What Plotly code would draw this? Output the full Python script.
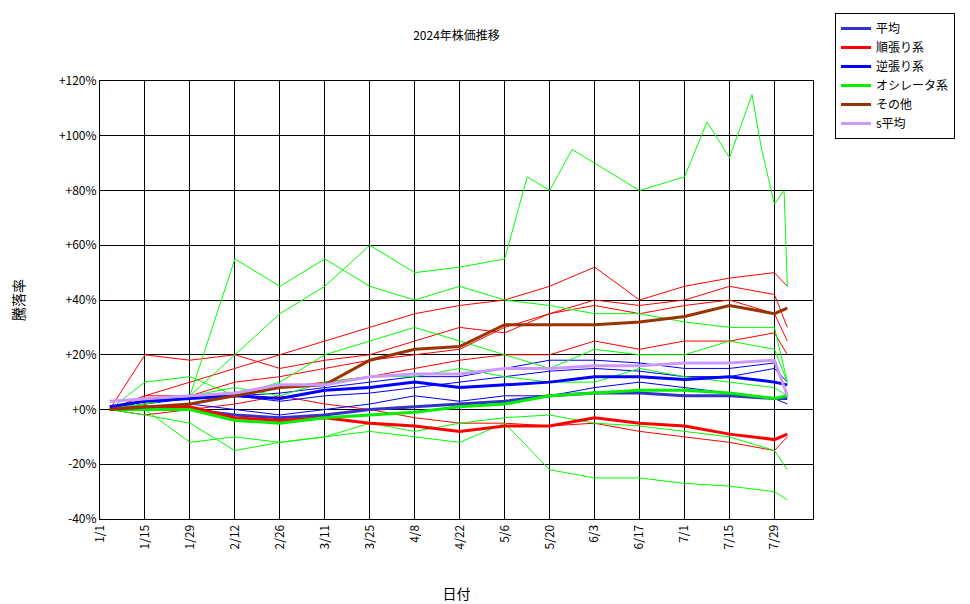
import plotly.graph_objects as go

# sample dates (roughly every two weeks, matching the tick dates)
dates = ["2024-01-04", "2024-01-15", "2024-01-29", "2024-02-12", "2024-02-26", "2024-03-11",
         "2024-03-25", "2024-04-08", "2024-04-22", "2024-05-06", "2024-05-20", "2024-06-03",
         "2024-06-17", "2024-07-01", "2024-07-15", "2024-07-29", "2024-08-02"]

# thick summary lines (%)
avg_all = [0, 0, 0, -2, -3, -2, 0, 1, 2, 3, 5, 6, 6, 5, 5, 4, 4]
trend = [0, 1, 1, -3, -4, -3, -5, -6, -8, -6, -6, -3, -5, -6, -9, -11, -9]
contra = [1, 3, 4, 5, 4, 7, 8, 10, 8, 9, 10, 12, 12, 11, 12, 10, 9]
osc = [0, 0, 0, -4, -5, -3, -2, -1, 1, 2, 5, 6, 7, 7, 6, 4, 5]
other = [0, 1, 2, 5, 8, 9, 18, 22, 23, 31, 31, 31, 32, 34, 38, 35, 37]
s_avg = [3, 4, 5, 6, 9, 9, 12, 13, 13, 15, 15, 16, 16, 17, 17, 18, 5]

# thin individual stock lines (%)
red_lines = [
    [0, 5, 10, 15, 20, 25, 30, 35, 38, 40, 45, 52, 40, 45, 48, 50, 45],
    [0, 20, 18, 20, 15, 18, 20, 25, 30, 28, 35, 40, 38, 40, 45, 42, 30],
    [0, 5, 5, 10, 12, 15, 18, 20, 22, 30, 35, 38, 35, 38, 40, 35, 25],
    [0, -2, 0, 2, 5, 2, 0, -3, -5, -5, -6, -5, -8, -10, -12, -15, -10],
    [0, 2, 5, 5, 8, 10, 12, 15, 18, 20, 20, 25, 22, 25, 25, 28, 20],
]
blue_lines = [
    [0, 2, 4, 5, 6, 8, 10, 12, 12, 15, 18, 18, 17, 15, 15, 17, 5],
    [0, 3, 5, 5, 3, 5, 6, 8, 10, 12, 14, 15, 14, 12, 12, 15, 10],
    [0, 0, 2, 0, -2, 0, 2, 5, 3, 5, 5, 8, 10, 8, 6, 4, 2],
]
green_lines = [
    [0, 2, 5, 55, 45, 55, 45, 40, 45, 40, 38, 35, 35, 32, 30, 30, 10],
    [0, 0, -12, -10, -12, -10, -8, -10, -12, -5, -22, -25, -25, -27, -28, -30, -33],
    [0, -2, -5, -15, -12, -10, -5, -8, -5, -3, -2, -5, -6, -8, -10, -15, -22],
    [0, 10, 12, 5, 10, 20, 25, 30, 25, 20, 15, 22, 20, 20, 25, 22, 10],
    [0, 3, 5, 8, 5, 10, 12, 12, 15, 12, 10, 10, 15, 12, 10, 8, 5],
]
# the top green line has more detail
g_top_dates = ["2024-01-04", "2024-01-15", "2024-01-29", "2024-02-12", "2024-02-26", "2024-03-11",
               "2024-03-25", "2024-04-08", "2024-04-22", "2024-05-06", "2024-05-13", "2024-05-20",
               "2024-05-27", "2024-06-03", "2024-06-17", "2024-07-01", "2024-07-08", "2024-07-15",
               "2024-07-22", "2024-07-25", "2024-07-29", "2024-08-01", "2024-08-02"]
g_top = [0, 2, 5, 20, 35, 45, 60, 50, 52, 55, 85, 80, 95, 90, 80, 85, 105, 92, 115, 95, 75, 80, 45]

tick_dates = ["2024-01-01", "2024-01-15", "2024-01-29", "2024-02-12", "2024-02-26", "2024-03-11",
              "2024-03-25", "2024-04-08", "2024-04-22", "2024-05-06", "2024-05-20", "2024-06-03",
              "2024-06-17", "2024-07-01", "2024-07-15", "2024-07-29"]
tick_text = ["1/1", "1/15", "1/29", "2/12", "2/26", "3/11", "3/25", "4/8", "4/22", "5/6",
             "5/20", "6/3", "6/17", "7/1", "7/15", "7/29"]
y_ticks = [-40, -20, 0, 20, 40, 60, 80, 100, 120]
y_text = ["-40%", "-20%", "+0%", "+20%", "+40%", "+60%", "+80%", "+100%", "+120%"]

fig = go.Figure()

def thin(x, y, color):
    fig.add_trace(go.Scatter(x=x, y=y, mode="lines", showlegend=False,
                             line=dict(color=color, width=1), hoverinfo="skip"))

for s in red_lines:
    thin(dates, s, "#ff0000")
for s in blue_lines:
    thin(dates, s, "#0000ff")
for s in green_lines:
    thin(dates, s, "#00ff00")
thin(g_top_dates, g_top, "#00ff00")

thick = [("平均", avg_all, "#3333cc"), ("順張り系", trend, "#ff0000"),
         ("逆張り系", contra, "#0000ff"), ("オシレータ系", osc, "#00ee00"),
         ("その他", other, "#993300"), ("s平均", s_avg, "#cc99ff")]
for name, y, c in thick:
    fig.add_trace(go.Scatter(x=dates, y=y, mode="lines", name=name,
                             line=dict(color=c, width=3)))

fig.update_layout(
    width=970, height=604, plot_bgcolor="white", paper_bgcolor="white",
    margin=dict(l=92, r=165, t=73, b=93, autoexpand=False),
    font=dict(family="Noto Sans CJK JP", size=12, color="black"),
    title=dict(text="2024年株価推移", x=0.5, xref="paper", y=1 - 28 / 604, yanchor="middle",
               xanchor="center", font=dict(size=12)),
    legend=dict(xref="container", yref="container", x=827 / 970, y=1 - 5 / 604,
                xanchor="left", yanchor="top", bordercolor="black", borderwidth=1,
                bgcolor="white", itemwidth=30, font=dict(size=12), tracegroupgap=0),
    showlegend=True,
)
fig.update_xaxes(range=["2024-01-01", "2024-08-10"], tickvals=tick_dates, ticktext=tick_text,
                 tickangle=-90, showgrid=True, gridcolor="black", gridwidth=1, automargin=False,
                 showline=True, linecolor="black", mirror=True, zeroline=False,
                 title=dict(text="日付", standoff=40))
fig.update_yaxes(range=[-40, 120], tickvals=y_ticks, ticktext=y_text, automargin=False,
                 showgrid=True, gridcolor="black", gridwidth=1,
                 showline=True, linecolor="black", mirror=True, zeroline=False,
                 title=dict(text="騰落率", standoff=50))

fig.write_html("out.html")
